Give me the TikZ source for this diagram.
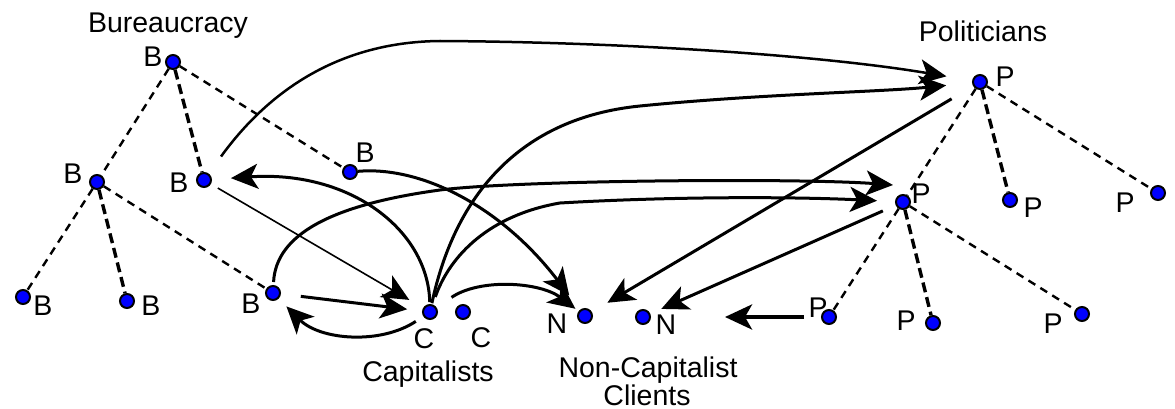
\documentclass[tikz,border=0pt]{standalone}
\usepackage{fontspec}
\setmainfont{Liberation Sans}
\usetikzlibrary{arrows.meta}

\tikzset{
	agent/.style={circle, fill=blue, draw=black, line width=2pt, minimum size=14pt, inner sep=0pt},
	lbl/.style={anchor=base, inner sep=0pt, font=\fontsize{28.5}{32}\selectfont},
	tie/.style={line width=2.4pt, dash pattern=on 8pt off 6pt},
	bigtie/.style={line width=3.4pt, dash pattern=on 10pt off 5pt},
	flow/.style={line width=3pt, -{Stealth[length=27pt, width=25pt, inset=7pt]}}
}

\begin{document}
\begin{tikzpicture}[x=1pt, y=-1pt]
	\useasboundingbox (0,0) rectangle (1175,409);

	% group names
	\node[lbl] (bur) at (168,33) {Bureaucracy};
	\node[lbl] (pol) at (983,42) {Politicians};
	\node[lbl] (cap) at (428,381) {Capitalists};
	\node[lbl] (ncap) at (648,377) {Non-Capitalist};
	\node[lbl] (ncli) at (647,405) {Clients};

	% actors
	\foreach \n/\x/\y in {b1/173/62, b2/97/182, b3/204/180, b4/350/172, b5/23/297, b6/127/301, b7/273/293,
		c1/430/312, c2/463/312, n1/585/316, n2/643/317,
		p1/980/82, p2/903/202, p3/1010/200, p4/1158/193, p5/829/317, p6/933/323, p7/1082/314}{
		\node[agent] (\n) at (\x,\y) {};
	}
	\foreach \n/\x/\y/\lab in {lb1/153/67/B, lb2/73/183/B, lb3/179/192/B, lb4/365/162/B,
		lb5/43/315/B, lb6/151/315/B, lb7/251/313/B,
		lc1/424/348/C, lc2/481/347/C, ln1/557/333/N, ln2/666/334/N,
		lp1/1005/87/P, lp2/921/203/P, lp3/1033/217/P, lp4/1125/212/P,
		lp5/818/317/P, lp6/906/330/P, lp7/1053/333/P}{
		\node[lbl] (\n) at (\x,\y) {\lab};
	}

	% hierarchies
	\draw[tie] (b1) -- (b2);
	\draw[bigtie] (b1) -- (b3);
	\draw[tie] (b1) -- (b4);
	\draw[tie] (b2) -- (b5);
	\draw[bigtie] (b2) -- (b6);
	\draw[tie] (b2) -- (b7);
	\draw[tie] (p1) -- (p2);
	\draw[bigtie] (p1) -- (p3);
	\draw[tie] (p1) -- (p4);
	\draw[tie] (p2) -- (p5);
	\draw[bigtie] (p2) -- (p6);
	\draw[tie] (p2) -- (p7);

	% exchanges
	\draw[flow, line width=2.5pt, shorten <=21pt, shorten >=26pt] (b3) .. controls (262,100) and (330,42) .. (440,41)
		.. controls (620,42) and (820,55) .. (p1);
	\draw[flow, shorten <=1pt, shorten >=26pt] (c1) .. controls (455,195) and (520,118) .. (640,106)
		.. controls (760,94) and (880,92) .. (p1);
	\draw[flow, shorten <=25pt, shorten >=18pt] (p1) -- (n1);
	\draw[flow, shorten <=14pt, shorten >=12pt] (p2) -- (n2);
	\coordinate (pend) at (725,317);
	\draw[flow, line width=4pt, shorten <=17pt] (p5) -- (pend);
	\draw[flow, shorten <=3pt] (b7) .. controls (276,235) and (330,205) .. (440,190)
		.. controls (520,180) and (800,178) .. ([shift={(-10,-17)}]p2.center);
	\draw[flow, shorten <=8pt, shorten >=18pt] (c1) .. controls (450,255) and (490,215) .. (560,203)
		.. controls (680,196) and (800,197) .. (p2);
	\draw[flow, shorten <=2pt, shorten >=19pt] (c1) .. controls (428,230) and (350,170) .. (b3);
	\draw[flow, shorten >=18pt] (b4) .. controls (420,166) and (500,205) .. (n1);
	\draw[flow, line width=1.6pt, shorten <=8pt, shorten >=16pt] (b3) -- (c1);
	\draw[flow, shorten <=20pt, shorten >=15pt] (b7) -- (c1);
	\draw[flow, shorten <=9pt, shorten >=11pt] (c1) .. controls (380,345) and (320,340) .. (b7);
	\draw[flow, shorten <=18pt, shorten >=4pt] (c1) .. controls (480,278) and (540,282) .. (n1);
\end{tikzpicture}
\end{document}
